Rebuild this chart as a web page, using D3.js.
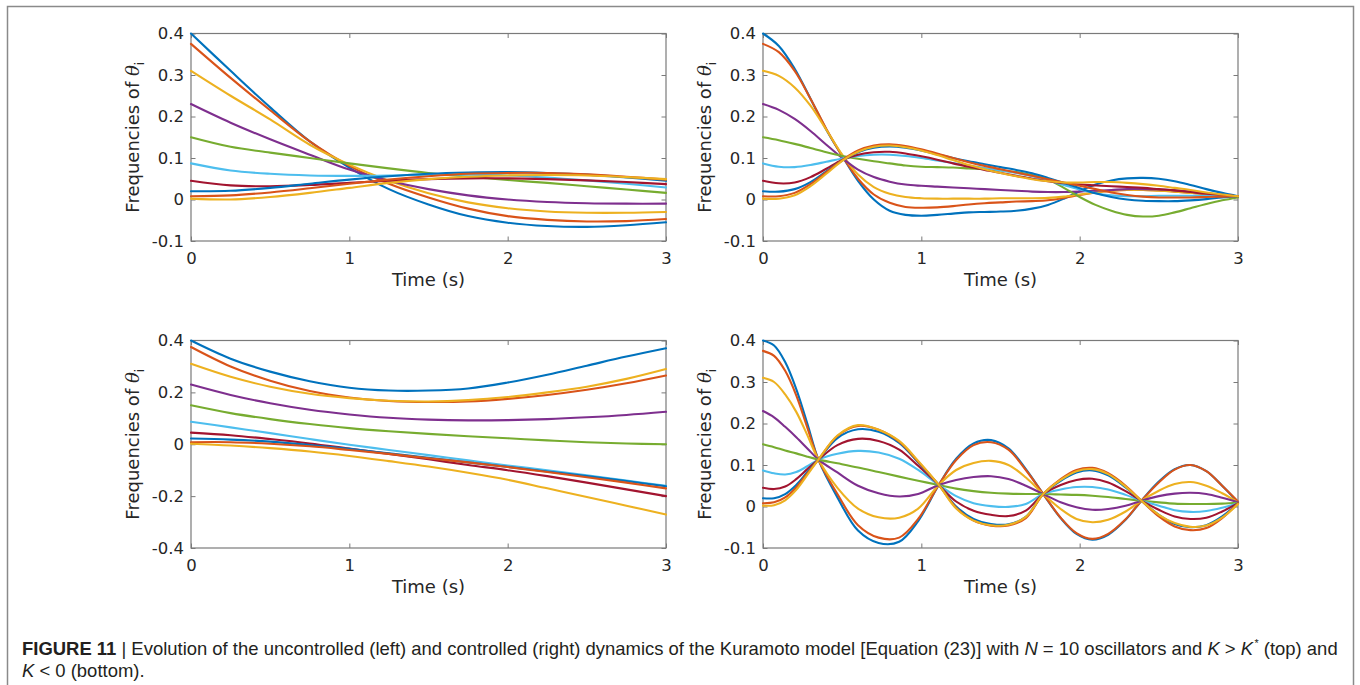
<!DOCTYPE html>
<html>
<head>
<meta charset="utf-8">
<script src="https://cdn.jsdelivr.net/npm/d3@7"></script>
<style>
  html, body { margin: 0; padding: 0; background: #fff; }
  svg { display: block; }
</style>
</head>
<body>
<svg id="fig" width="1360" height="685"></svg>
<script>
// Line colours: MATLAB default order, cycled over the 10 oscillators
const seriesColors = ["#0072BD", "#D95319", "#EDB120", "#7E2F8E", "#77AC30",
                      "#4DBEEE", "#A2142F", "#0072BD", "#D95319", "#EDB120"];

// Sample times (s)
const timeCoarse = [0, 0.25, 0.5, 0.75, 1, 1.25, 1.5, 1.75, 2, 2.25, 2.5, 2.75, 3];
const timeFine = [0, 0.1, 0.2, 0.3, 0.4, 0.5, 0.6, 0.7, 0.8, 0.9, 1.0, 1.1, 1.2, 1.3, 1.4, 1.5,
                  1.6, 1.7, 1.8, 1.9, 2.0, 2.1, 2.2, 2.3, 2.4, 2.5, 2.6, 2.7, 2.8, 2.9, 3.0];
const timeOsc = [0, 0.07, 0.14, 0.21, 0.28, 0.35, 0.47, 0.6, 0.73, 0.86, 0.98, 1.11, 1.22, 1.33, 1.44,
                 1.55, 1.66, 1.77, 1.88, 1.98, 2.08, 2.18, 2.29, 2.39, 2.5, 2.6, 2.7, 2.8, 2.9, 3.0];

// Uncontrolled, K > K*  (top left)
const uncontrolledStrong = [
  [0.4, 0.31, 0.222, 0.14, 0.077, 0.025, -0.012, -0.04, -0.056, -0.064, -0.066, -0.062, -0.055],
  [0.375, 0.293, 0.215, 0.14, 0.081, 0.038, 0.005, -0.022, -0.04, -0.049, -0.053, -0.052, -0.047],
  [0.31, 0.25, 0.193, 0.132, 0.084, 0.045, 0.015, -0.007, -0.021, -0.029, -0.032, -0.032, -0.03],
  [0.23, 0.185, 0.145, 0.108, 0.072, 0.045, 0.025, 0.01, 0.0, -0.006, -0.009, -0.01, -0.01],
  [0.15, 0.127, 0.113, 0.1, 0.087, 0.075, 0.064, 0.055, 0.047, 0.04, 0.032, 0.024, 0.016],
  [0.087, 0.07, 0.062, 0.058, 0.057, 0.058, 0.06, 0.06, 0.058, 0.053, 0.046, 0.038, 0.029],
  [0.045, 0.034, 0.032, 0.035, 0.04, 0.045, 0.049, 0.051, 0.051, 0.049, 0.046, 0.042, 0.037],
  [0.02, 0.021, 0.028, 0.038, 0.048, 0.056, 0.062, 0.065, 0.066, 0.064, 0.06, 0.053, 0.045],
  [0.008, 0.01, 0.017, 0.027, 0.038, 0.048, 0.056, 0.062, 0.064, 0.064, 0.061, 0.055, 0.048],
  [0.002, 0.0, 0.006, 0.016, 0.028, 0.04, 0.049, 0.055, 0.058, 0.059, 0.058, 0.054, 0.049]
];

// Controlled, K > K*  (top right)
const controlledStrong = [
  [0.4, 0.37, 0.315, 0.243, 0.168, 0.105, 0.045, 0.0, -0.027, -0.037, -0.039, -0.037, -0.034, -0.031, -0.03, -0.029, -0.027, -0.022, -0.013, 0.002, 0.02, 0.036, 0.046, 0.051, 0.052, 0.05, 0.044, 0.035, 0.025, 0.016, 0.008],
  [0.375, 0.355, 0.31, 0.243, 0.17, 0.105, 0.05, 0.012, -0.008, -0.018, -0.02, -0.019, -0.016, -0.012, -0.009, -0.007, -0.005, -0.004, -0.002, 0.004, 0.011, 0.017, 0.021, 0.023, 0.023, 0.022, 0.019, 0.016, 0.013, 0.01, 0.008],
  [0.31, 0.298, 0.27, 0.226, 0.168, 0.108, 0.06, 0.03, 0.014, 0.006, 0.003, 0.002, 0.002, 0.002, 0.002, 0.003, 0.003, 0.003, 0.004, 0.007, 0.012, 0.017, 0.021, 0.023, 0.023, 0.021, 0.019, 0.016, 0.013, 0.01, 0.008],
  [0.23, 0.216, 0.194, 0.165, 0.132, 0.1, 0.072, 0.054, 0.043, 0.036, 0.033, 0.031, 0.029, 0.027, 0.025, 0.023, 0.021, 0.019, 0.018, 0.018, 0.019, 0.021, 0.023, 0.025, 0.025, 0.024, 0.022, 0.019, 0.015, 0.011, 0.008],
  [0.15, 0.143, 0.134, 0.124, 0.114, 0.105, 0.098, 0.092, 0.087, 0.082, 0.079, 0.078, 0.077, 0.075, 0.073, 0.07, 0.066, 0.059, 0.048, 0.028, 0.006, -0.013, -0.027, -0.037, -0.041, -0.039, -0.031, -0.021, -0.011, -0.002, 0.005],
  [0.087, 0.079, 0.078, 0.083, 0.091, 0.099, 0.105, 0.108, 0.108, 0.105, 0.1, 0.094, 0.088, 0.082, 0.076, 0.07, 0.064, 0.056, 0.046, 0.035, 0.024, 0.015, 0.01, 0.008, 0.008, 0.009, 0.009, 0.009, 0.009, 0.008, 0.008],
  [0.045, 0.039, 0.041, 0.054, 0.074, 0.095, 0.108, 0.114, 0.115, 0.111, 0.104, 0.096, 0.087, 0.079, 0.071, 0.064, 0.057, 0.05, 0.044, 0.039, 0.036, 0.034, 0.032, 0.03, 0.028, 0.025, 0.022, 0.018, 0.014, 0.011, 0.008],
  [0.02, 0.019, 0.025, 0.042, 0.068, 0.094, 0.114, 0.125, 0.128, 0.125, 0.118, 0.109, 0.1, 0.092, 0.085, 0.078, 0.071, 0.063, 0.052, 0.04, 0.027, 0.015, 0.006, 0.0, -0.003, -0.004, -0.004, -0.002, 0.001, 0.005, 0.008],
  [0.008, 0.008, 0.016, 0.037, 0.066, 0.095, 0.118, 0.13, 0.133, 0.129, 0.121, 0.111, 0.1, 0.09, 0.081, 0.073, 0.065, 0.057, 0.049, 0.041, 0.033, 0.025, 0.017, 0.011, 0.007, 0.005, 0.005, 0.005, 0.006, 0.007, 0.008],
  [0.002, 0.002, 0.01, 0.032, 0.062, 0.093, 0.115, 0.127, 0.13, 0.126, 0.118, 0.107, 0.095, 0.083, 0.073, 0.064, 0.056, 0.049, 0.044, 0.041, 0.041, 0.042, 0.042, 0.04, 0.037, 0.033, 0.028, 0.023, 0.017, 0.012, 0.008]
];

// Uncontrolled, K < 0  (bottom left)
const uncontrolledNegative = [
  [0.4, 0.33, 0.28, 0.243, 0.218, 0.207, 0.207, 0.215, 0.238, 0.268, 0.303, 0.338, 0.37],
  [0.375, 0.3, 0.245, 0.205, 0.18, 0.167, 0.163, 0.165, 0.175, 0.19, 0.21, 0.235, 0.265],
  [0.31, 0.26, 0.222, 0.195, 0.178, 0.168, 0.165, 0.17, 0.182, 0.2, 0.222, 0.252, 0.29],
  [0.23, 0.19, 0.158, 0.133, 0.115, 0.102, 0.095, 0.092, 0.093, 0.097, 0.104, 0.113, 0.125],
  [0.15, 0.12, 0.097, 0.078, 0.062, 0.05, 0.04, 0.031, 0.023, 0.015, 0.008, 0.003, 0.0],
  [0.087, 0.065, 0.043, 0.02, -0.002, -0.022, -0.042, -0.062, -0.082, -0.1, -0.12, -0.14, -0.16],
  [0.045, 0.035, 0.02, 0.003, -0.017, -0.037, -0.058, -0.08, -0.1, -0.123, -0.148, -0.174, -0.2],
  [0.022, 0.018, 0.01, -0.003, -0.018, -0.035, -0.052, -0.07, -0.087, -0.105, -0.123, -0.142, -0.162],
  [0.008, 0.008, 0.002, -0.008, -0.022, -0.037, -0.054, -0.07, -0.088, -0.107, -0.127, -0.148, -0.17],
  [0.002, -0.005, -0.015, -0.028, -0.045, -0.065, -0.086, -0.11, -0.137, -0.17, -0.203, -0.237, -0.271]
];

// Controlled, K < 0  (bottom right)
const controlledNegative = [
  [0.4, 0.388, 0.348, 0.283, 0.2, 0.113, 0.022, -0.058, -0.088, -0.085, -0.035, 0.052, 0.115, 0.152, 0.16, 0.14, 0.09, 0.03, -0.028, -0.066, -0.08, -0.068, -0.032, 0.014, 0.06, 0.09, 0.1, 0.085, 0.05, 0.01],
  [0.375, 0.363, 0.327, 0.268, 0.19, 0.113, 0.03, -0.045, -0.075, -0.075, -0.03, 0.052, 0.112, 0.148, 0.155, 0.137, 0.088, 0.03, -0.027, -0.064, -0.078, -0.066, -0.031, 0.014, 0.058, 0.089, 0.1, 0.085, 0.05, 0.012],
  [0.31, 0.3, 0.27, 0.228, 0.172, 0.113, 0.045, -0.005, -0.026, -0.027, -0.005, 0.052, 0.088, 0.105, 0.11, 0.1, 0.07, 0.03, -0.006, -0.03, -0.038, -0.032, -0.012, 0.014, 0.038, 0.054, 0.059, 0.05, 0.032, 0.01],
  [0.23, 0.215, 0.192, 0.167, 0.14, 0.113, 0.082, 0.05, 0.032, 0.024, 0.03, 0.052, 0.064, 0.071, 0.073, 0.066, 0.05, 0.03, 0.01, -0.002, -0.008, -0.006, 0.002, 0.014, 0.025, 0.031, 0.033, 0.03, 0.021, 0.01],
  [0.15, 0.143, 0.135, 0.128, 0.12, 0.113, 0.104, 0.094, 0.083, 0.072, 0.062, 0.052, 0.043, 0.037, 0.033, 0.031, 0.03, 0.03, 0.029, 0.028, 0.026, 0.023, 0.018, 0.014, 0.01, 0.007, 0.006, 0.006, 0.007, 0.009],
  [0.087, 0.08, 0.077, 0.083, 0.097, 0.113, 0.127, 0.134, 0.13, 0.115, 0.088, 0.052, 0.025, 0.008, 0.001, -0.001, 0.006, 0.03, 0.041, 0.047, 0.047, 0.041, 0.028, 0.014, 0.002, -0.009, -0.013, -0.011, -0.003, 0.008],
  [0.045, 0.042, 0.048, 0.066, 0.09, 0.113, 0.148, 0.163, 0.158, 0.137, 0.098, 0.052, 0.012, -0.01, -0.02, -0.023, -0.01, 0.03, 0.052, 0.064, 0.067, 0.058, 0.037, 0.014, -0.008, -0.024, -0.03, -0.027, -0.012, 0.008],
  [0.02, 0.02, 0.03, 0.052, 0.083, 0.113, 0.165, 0.186, 0.18, 0.153, 0.106, 0.052, 0.0, -0.03, -0.042, -0.043, -0.025, 0.03, 0.062, 0.082, 0.087, 0.075, 0.046, 0.014, -0.02, -0.042, -0.05, -0.045, -0.024, 0.008],
  [0.008, 0.01, 0.022, 0.046, 0.08, 0.113, 0.17, 0.194, 0.185, 0.156, 0.108, 0.052, -0.003, -0.034, -0.046, -0.046, -0.028, 0.03, 0.066, 0.088, 0.093, 0.08, 0.05, 0.014, -0.024, -0.048, -0.057, -0.052, -0.028, 0.008],
  [0.002, 0.003, 0.015, 0.04, 0.076, 0.113, 0.171, 0.196, 0.185, 0.158, 0.11, 0.052, -0.005, -0.034, -0.045, -0.044, -0.025, 0.03, 0.064, 0.085, 0.09, 0.078, 0.048, 0.014, -0.02, -0.04, -0.049, -0.046, -0.027, 0.006]
];

// Axis ticks
const timeTicks = [0, 1, 2, 3];
const freqTicksNarrow = [-0.1, 0, 0.1, 0.2, 0.3, 0.4];
const freqTicksWide = [-0.4, -0.2, 0, 0.2, 0.4];

const panels = [
  { left: 191, top: 33.5, time: timeCoarse, series: uncontrolledStrong,   yDomain: [-0.1, 0.4], yTicks: freqTicksNarrow },
  { left: 763, top: 33.5, time: timeFine,   series: controlledStrong,     yDomain: [-0.1, 0.4], yTicks: freqTicksNarrow },
  { left: 191, top: 340.5, time: timeCoarse, series: uncontrolledNegative, yDomain: [-0.4, 0.4], yTicks: freqTicksWide },
  { left: 763, top: 340.5, time: timeOsc,    series: controlledNegative,   yDomain: [-0.1, 0.4], yTicks: freqTicksNarrow }
];

const plotW = 475, plotH = 207.5;
const axisColor = "#7a7a7a";
const textColor = "#262626";
const axisFont = "'DejaVu Sans', Verdana, sans-serif";

const svg = d3.select("#fig");

// outer figure frame
svg.append("rect")
  .attr("x", 7.5).attr("y", 6.5)
  .attr("width", 1346).attr("height", 700)
  .attr("fill", "none").attr("stroke", "#8a8a8a").attr("stroke-width", 1.5);

function drawPanel(p) {
  const x = d3.scaleLinear().domain([0, 3]).range([p.left, p.left + plotW]);
  const y = d3.scaleLinear().domain(p.yDomain).range([p.top + plotH, p.top]);
  const g = svg.append("g");
  const fmt = d => String(d);

  const styleAxis = sel => {
    sel.select(".domain").remove();
    sel.selectAll(".tick line").attr("stroke", axisColor).attr("stroke-width", 1);
    sel.selectAll(".tick text").attr("fill", textColor)
      .attr("font-family", axisFont).attr("font-size", 16.5);
  };

  g.append("g").attr("transform", `translate(${p.left},0)`)
    .call(d3.axisLeft(y).tickValues(p.yTicks).tickFormat(fmt)
      .tickSizeInner(-4.5).tickSizeOuter(0).tickPadding(7))
    .call(styleAxis);
  g.append("g").attr("transform", `translate(${p.left + plotW},0)`)
    .call(d3.axisRight(y).tickValues(p.yTicks).tickFormat("")
      .tickSizeInner(-4.5).tickSizeOuter(0))
    .call(styleAxis);
  g.append("g").attr("transform", `translate(0,${p.top + plotH})`)
    .call(d3.axisBottom(x).tickValues(timeTicks).tickFormat(fmt)
      .tickSizeInner(-4.5).tickSizeOuter(0).tickPadding(11.3))
    .call(styleAxis);
  g.append("g").attr("transform", `translate(0,${p.top})`)
    .call(d3.axisTop(x).tickValues(timeTicks).tickFormat("")
      .tickSizeInner(-4.5).tickSizeOuter(0))
    .call(styleAxis);

  // axes box
  g.append("rect")
    .attr("x", x(0)).attr("y", y(p.yDomain[1]))
    .attr("width", x(3) - x(0)).attr("height", y(p.yDomain[0]) - y(p.yDomain[1]))
    .attr("fill", "none").attr("stroke", axisColor).attr("stroke-width", 1.2);

  // oscillator frequency traces
  p.series.forEach((vals, k) => {
    const line = d3.line()
      .x((d, i) => x(p.time[i]))
      .y(d => y(d))
      .curve(d3.curveCatmullRom.alpha(0.5));
    g.append("path")
      .attr("d", line(vals))
      .attr("fill", "none")
      .attr("stroke", seriesColors[k])
      .attr("stroke-width", 2.1)
      .attr("stroke-linejoin", "round")
      .attr("stroke-linecap", "round");
  });

  // axis titles
  g.append("text")
    .attr("x", p.left + plotW / 2).attr("y", p.top + plotH + 45)
    .attr("text-anchor", "middle")
    .attr("font-family", axisFont).attr("font-size", 18).attr("fill", textColor)
    .text("Time (s)");

  const yl = g.append("text")
    .attr("transform", `translate(${p.left - 52},${p.top + plotH / 2}) rotate(-90)`)
    .attr("text-anchor", "middle")
    .attr("font-family", axisFont).attr("font-size", 18).attr("fill", textColor);
  yl.append("tspan").text("Frequencies of ");
  yl.append("tspan").attr("font-style", "italic").attr("font-family", "'DejaVu Serif', serif").text("θ");
  yl.append("tspan").attr("font-size", 12).attr("dy", 5).text("i");
}

panels.forEach(drawPanel);

// caption: condensed by a horizontal scale so the first line spans the frame
const capFont = "'Liberation Sans Narrow', 'Arial Narrow', 'Liberation Sans', Arial, sans-serif";
const capLeft = 22, capWidth = 1315;
const capGroup = svg.append("g");

const cap1 = capGroup.append("text")
  .attr("x", 0).attr("y", 0)
  .attr("font-family", capFont).attr("font-size", 19).attr("fill", "#231f20");
cap1.append("tspan").attr("font-weight", "bold").text("FIGURE 11");
cap1.append("tspan").text(" | Evolution of the uncontrolled (left) and controlled (right) dynamics of the Kuramoto model [Equation (23)] with ");
cap1.append("tspan").attr("font-style", "italic").text("N");
cap1.append("tspan").text(" = 10 oscillators and ");
cap1.append("tspan").attr("font-style", "italic").text("K");
cap1.append("tspan").text(" > ");
cap1.append("tspan").attr("font-style", "italic").text("K");
cap1.append("tspan").attr("font-size", 11).attr("dx", 1.5).attr("dy", -8).text("*");
cap1.append("tspan").attr("dy", 8).text(" (top) and");

const cap2 = capGroup.append("text")
  .attr("x", 0).attr("y", 22)
  .attr("font-family", capFont).attr("font-size", 19).attr("fill", "#231f20");
cap2.append("tspan").attr("font-style", "italic").text("K");
cap2.append("tspan").text(" < 0 (bottom).");

const squeeze = capWidth / cap1.node().getComputedTextLength();
capGroup.attr("transform", `translate(${capLeft},655) scale(${squeeze},1)`);
</script>
</body>
</html>
